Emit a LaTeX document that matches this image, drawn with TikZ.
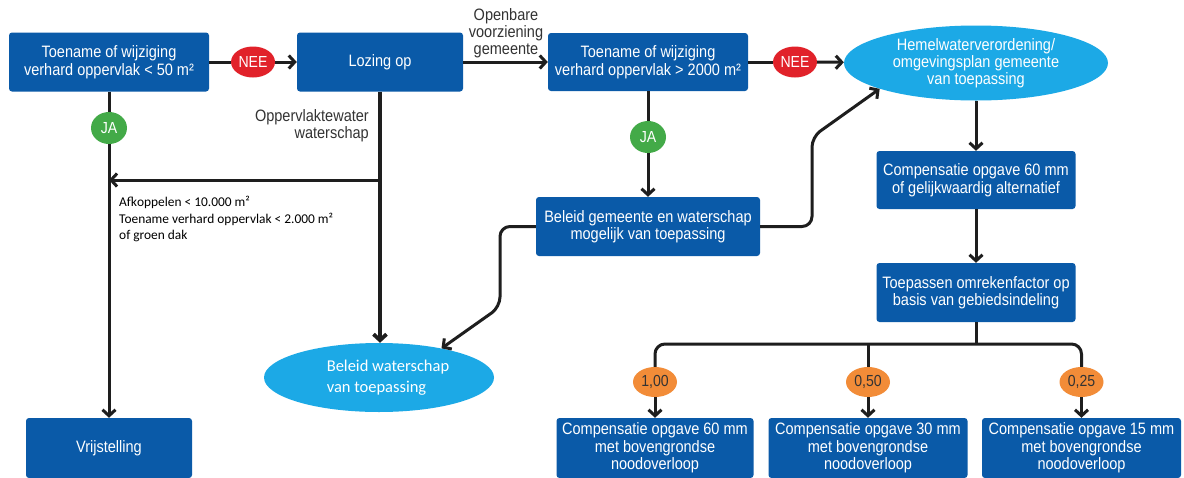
\documentclass[tikz,border=0pt]{standalone}
\usepackage{fontspec}
\setmainfont{Liberation Sans}
\newfontfamily\nar{Liberation Sans}[FakeStretch=0.88]
\newfontfamily\carl{Carlito}
\usetikzlibrary{arrows.meta,shapes.geometric}
\definecolor{dblue}{HTML}{0A5AA8}
\definecolor{lblue}{HTML}{1CA9E6}
\definecolor{nred}{HTML}{E1222A}
\definecolor{ngreen}{HTML}{43AA48}
\definecolor{norange}{HTML}{F28C38}
\definecolor{lk}{HTML}{1E1E1E}
\definecolor{tgray}{HTML}{333333}
\begin{document}
\begin{tikzpicture}[x=1pt,y=-1pt,
  box/.style={fill=dblue, rounded corners=3pt, text=white, align=center, inner sep=0pt, font=\nar\fontsize{16.5}{17.5}\selectfont},
  oval/.style={ellipse, fill=lblue, text=white, align=center, inner sep=0pt},
  badge/.style={ellipse, inner sep=0pt, text=white, font=\nar\fontsize{16}{16}\selectfont},
  nee/.style={badge, fill=nred, minimum width=44pt, minimum height=31pt},
  ja/.style={badge, fill=ngreen, minimum width=36pt, minimum height=32pt},
  fac/.style={badge, fill=norange, text=tgray, minimum width=44pt, minimum height=30pt},
  link/.style={draw=lk, line width=3pt},
  arr/.style={link, -{Straight Barb[length=6pt,width=13pt]}},
  lbl/.style={text=tgray, inner sep=0pt, font=\nar\fontsize{16.5}{17}\selectfont}
]
\useasboundingbox (0,0) rectangle (1184,477);
\fill[white] (0,0) rectangle (1184,477);

% row 1
\node[box, minimum width=200pt, minimum height=59pt] (b1) at (109,62) {Toename of wijziging\\verhard oppervlak < 50 m²};
\node[nee] (nee1) at (253,62) {NEE};
\node[box, minimum width=166pt, minimum height=59pt] (b2) at (380,62) {Lozing op};
\node[lbl, align=center] (lab1) at (506,33) {Openbare\\voorziening\\gemeente};
\node[box, minimum width=200pt, minimum height=58pt] (b3) at (648,62) {Toename of wijziging\\verhard oppervlak > 2000 m²};
\node[nee] (nee2) at (795,62) {NEE};
\node[oval, minimum width=264pt, minimum height=75pt, font=\nar\fontsize{16.5}{17}\selectfont] (e1) at (976,63) {Hemelwaterverordening/\\omgevingsplan gemeente\\van toepassing};

% left part
\node[ja] (ja1) at (109,128) {JA};
\node[lbl, align=right, anchor=east] (lab2) at (369,126) {Oppervlaktewater\\waterschap};
\node[anchor=north west, inner sep=0pt, align=left, text=black, font=\carl\fontsize{13.4}{16.5}\selectfont] (lab3) at (119,196) {Afkoppelen < 10.000 m²\\Toename verhard oppervlak < 2.000 m²\\of groen dak};
\node[box, minimum width=166pt, minimum height=60pt] (vrij) at (109,448) {Vrijstelling};
\node[oval, minimum width=230pt, minimum height=69pt, font=\carl\fontsize{16.5}{21}\selectfont, align=left] (e2) at (379,377.5) {\hspace*{18pt}Beleid waterschap\\\hspace*{18pt}van toepassing};

% middle
\node[ja] (ja2) at (648,137) {JA};
\node[box, minimum width=224pt, minimum height=59pt] (b4) at (648,226.5) {Beleid gemeente en waterschap\\mogelijk van toepassing};

% right
\node[box, minimum width=199pt, minimum height=58pt] (c1) at (976,180) {Compensatie opgave 60 mm\\of gelijkwaardig alternatief};
\node[box, minimum width=199pt, minimum height=59pt] (t1) at (976,292.5) {Toepassen omrekenfactor op\\basis van gebiedsindeling};
\coordinate (tr) at (976,344);
\node[fac] (o1) at (655,382) {1,00};
\node[fac] (o2) at (868,382) {0,50};
\node[fac] (o3) at (1081.5,382) {0,25};
\node[box, minimum width=197pt, minimum height=60pt] (d1) at (655,448) {Compensatie opgave 60 mm\\met bovengrondse\\noodoverloop};
\node[box, minimum width=199pt, minimum height=60pt] (d2) at (868,448) {Compensatie opgave 30 mm\\met bovengrondse\\noodoverloop};
\node[box, minimum width=199pt, minimum height=60pt] (d3) at (1081.5,448) {Compensatie opgave 15 mm\\met bovengrondse\\noodoverloop};

% connectors
\draw[link] (b1) -- (nee1);
\draw[arr] (nee1) -- (b2);
\draw[arr] (b2) -- (b3);
\draw[link] (b3) -- (nee2);
\draw[arr] (nee2) -- (e1);
\draw[link] (b1) -- (ja1);
\draw[arr] (ja1) -- (vrij);
\draw[arr, line width=3.8pt] (b2.south) -- (b2.south |- e2.north);
\coordinate (j1) at (380,180);
\draw[arr] (j1) -- (j1 -| ja1);
\draw[link] (b3) -- (ja2);
\draw[arr] (ja2) -- (b4);
\draw[arr, rounded corners=10pt] (b4.east) -- (812,226.5) -- (812,137) -- (e1.195);
\draw[arr, rounded corners=10pt] (b4.west) -- (500,226.5) -- (500,307) -- (e2.25);
\draw[arr] (e1) -- (c1);
\draw[arr] (c1) -- (t1);
\draw[link] (t1.south) -- (tr);
\draw[link, rounded corners=10pt] (o1.north) -- (o1.north |- tr) -- (o3.north |- tr) -- (o3.north);
\draw[link] (o2.north |- tr) -- (o2.north);
\draw[arr] (o1) -- (d1);
\draw[arr] (o2) -- (d2);
\draw[arr] (o3) -- (d3);
\end{tikzpicture}
\end{document}
